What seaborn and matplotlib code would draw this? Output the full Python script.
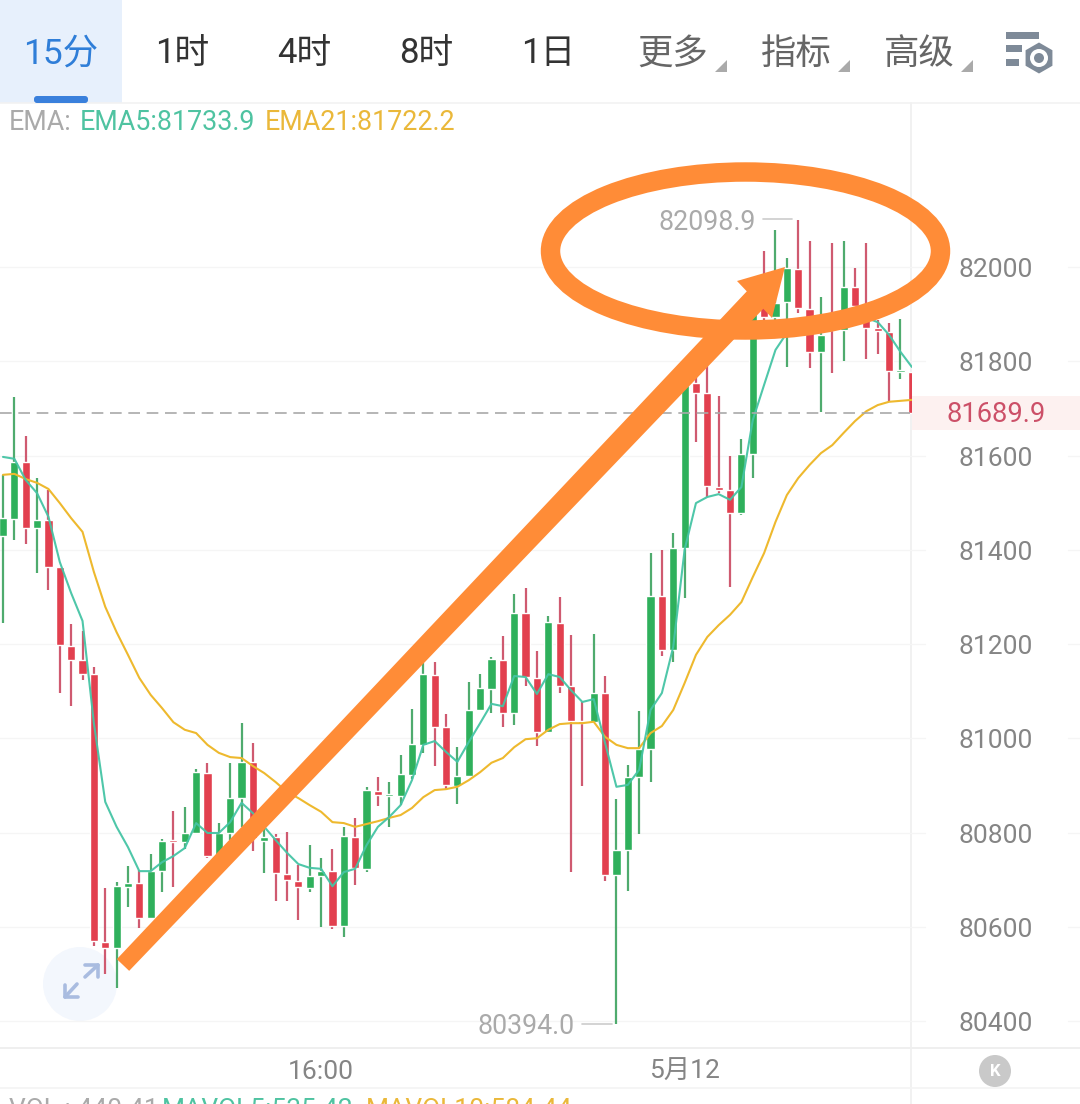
import matplotlib
matplotlib.use("Agg")
import matplotlib.pyplot as plt
from matplotlib.patches import Rectangle, Circle, Ellipse, Polygon, RegularPolygon, FancyBboxPatch
from matplotlib.transforms import ScaledTranslation
import numpy as np
import pandas as pd
import seaborn as sns

open_ = [81429, 81465, 81586, 81446, 81463, 81363, 81196, 81166, 81136, 80568,
         80555, 80684, 80693, 80619, 80718, 80784, 80780, 80799, 80926, 80746,
         80799, 80873, 80950, 80782, 80790, 80712, 80697, 80682, 80708, 80718,
         80602, 80790, 80723, 80888, 80877, 80877, 80922, 80986, 81134, 81024,
         80899, 80920, 81060, 81105, 81166, 81054, 81266, 81128, 81013, 81245,
         81111, 81037, 81035, 81096, 80710, 80763, 80918, 80977, 81302, 81187,
         81404, 81754, 81733, 81533, 81527, 81478, 81603, 81919, 81894, 81926,
         81996, 81911, 81820, 81892, 81866, 81958, 81909, 81871, 81862, 81777,
         81777]
close = [81467, 81586, 81446, 81463, 81363, 81198, 81166, 81136, 80570, 80555,
         80686, 80693, 80619, 80718, 80782, 80780, 80799, 80928, 80750, 80799,
         80873, 80950, 80788, 80790, 80714, 80699, 80684, 80708, 80718, 80602,
         80793, 80725, 80890, 80880, 80882, 80924, 80988, 81136, 81024, 80901,
         80920, 81060, 81107, 81168, 81054, 81266, 81130, 81013, 81247, 81111,
         81037, 81032, 81096, 80710, 80763, 80918, 80977, 81302, 81187, 81404,
         81750, 81733, 81535, 81527, 81478, 81603, 81902, 81894, 81924, 81998,
         81913, 81820, 81856, 81866, 81958, 81917, 81871, 81864, 81779, 81779,
         81689.9]
high = [81559, 81724, 81641, 81552, 81527, 81363, 81242, 81228, 81151, 80682,
        80695, 80729, 80720, 80754, 80786, 80846, 80854, 80935, 80948, 80820,
        80948, 81032, 80990, 80812, 80797, 80801, 80731, 80773, 80746, 80765,
        80812, 80831, 80897, 80918, 80907, 80964, 81062, 81160, 81162, 81051,
        80981, 81119, 81136, 81172, 81217, 81306, 81319, 81185, 81259, 81300,
        81219, 81077, 81221, 81132, 80871, 80943, 81058, 81393, 81400, 81436,
        81771, 81775, 81803, 81726, 81599, 81635, 81919, 82034, 82079, 82019,
        82098.9, 82055, 81936, 82051, 82055, 81998, 82051, 81888, 81881, 81890,
        81777]
low = [81245, 81421, 81412, 81351, 81315, 81096, 81068, 81124, 80559, 80500,
       80470, 80642, 80597, 80619, 80674, 80684, 80765, 80799, 80746, 80742,
       80784, 80812, 80761, 80714, 80655, 80655, 80614, 80674, 80600, 80595,
       80578, 80689, 80716, 80856, 80812, 80858, 80914, 80969, 80941, 80890,
       80860, 80920, 81060, 81054, 81024, 81028, 81111, 80984, 81013, 81096,
       80716, 80899, 81035, 80697, 80394, 80676, 80797, 80907, 81175, 81162,
       81298, 81629, 81512, 81520, 81321, 81474, 81552, 81883, 81883, 81788,
       81902, 81786, 81692, 81775, 81801, 81909, 81805, 81815, 81714, 81762,
       81689.9]
ema5 = [81597, 81593, 81548, 81520, 81470, 81374, 81308, 81249, 81032, 80865,
        80812, 80769, 80718, 80718, 80737, 80750, 80767, 80820, 80799, 80799,
        80822, 80863, 80841, 80812, 80784, 80757, 80733, 80725, 80723, 80686,
        80716, 80723, 80773, 80812, 80833, 80858, 80911, 80986, 80994, 80971,
        80950, 80992, 81032, 81073, 81068, 81132, 81130, 81094, 81136, 81130,
        81102, 81077, 81083, 80990, 80897, 80901, 80933, 81060, 81096, 81194,
        81400, 81499, 81512, 81518, 81506, 81533, 81675, 81750, 81824, 81860,
        81877, 81888, 81877, 81883, 81898, 81898, 81892, 81883, 81856, 81820,
        81788]
ema21 = [81559, 81561, 81550, 81542, 81529, 81499, 81467, 81438, 81353, 81279,
         81225, 81177, 81128, 81092, 81064, 81034, 81018, 81011, 80986, 80969,
         80960, 80958, 80941, 80926, 80907, 80886, 80873, 80858, 80844, 80822,
         80820, 80812, 80818, 80824, 80831, 80837, 80852, 80875, 80890, 80892,
         80897, 80911, 80928, 80948, 80958, 80981, 80998, 81000, 81018, 81030,
         81032, 81032, 81035, 81003, 80986, 80979, 80979, 81011, 81026, 81060,
         81117, 81177, 81215, 81240, 81262, 81289, 81342, 81393, 81459, 81516,
         81552, 81580, 81605, 81622, 81648, 81673, 81694, 81707, 81714, 81716,
         81718]

price_ticks = [80400, 80600, 80800, 81000, 81200, 81400, 81600, 81800, 82000]
time_ticks = [28, 60]
time_labels = ["16:00", "5月12"]
tabs = ["1时", "4时", "8时", "1日"]
menus = ["更多", "指标", "高级"]
last_price = 81689.9

GREEN = "#2fb05c"
GREEN_WICK = "#4fab6e"
RED = "#e2404f"
RED_WICK = "#cf5a70"
TEAL = "#45c4a5"
YELLOW = "#eeb92e"
ORANGE = "#ff8c37"
GRID = "#f5f5f5"
FONT = ["Roboto", "Noto Sans CJK SC", "DejaVu Sans"]
CJK = ["Noto Sans CJK SC", "DejaVu Sans"]

sns.set_theme(style="white")
plt.rcParams["font.family"] = FONT

df = pd.DataFrame({"idx": range(len(close)), "open": open_, "close": close, "high": high,
                   "low": low, "ema5": ema5, "ema21": ema21})

W, H = 1080, 1104
fig = plt.figure(figsize=(W / 100, H / 100), dpi=100, facecolor="white")


def px_axes(z):
    a = fig.add_axes([0, 0, 1, 1], zorder=z)
    a.set_xlim(0, W)
    a.set_ylim(H, 0)
    a.axis("off")
    a.patch.set_alpha(0)
    return a


bg = px_axes(0)
fg = px_axes(2)

# main chart, pixel box 0..911 x 103..1048
top, bottom, right = 103, 1048, 911.5
ax = fig.add_axes([0, 1 - bottom / H, right / W, (bottom - top) / H], zorder=1)
ax.patch.set_alpha(0)
ax.set_xlim(-3 / 11.36, (right - 3) / 11.36)
ax.set_ylim(82000 - (bottom - 267) * 2.122, 82000 + (267 - top) * 2.122)
for s in ax.spines.values():
    s.set_visible(False)

up = df[df["close"] >= df["open"]]
down = df[df["close"] < df["open"]]
ax.vlines(up["idx"], up["low"], up["high"], color=GREEN_WICK, lw=1.6, zorder=2)
ax.vlines(down["idx"], down["low"], down["high"], color=RED_WICK, lw=1.6, zorder=2)
ax.bar(up["idx"], (up["close"] - up["open"]).clip(lower=4), bottom=up["open"], width=0.72,
       color=GREEN, zorder=3)
ax.bar(down["idx"], (down["close"] - down["open"]).clip(upper=-4), bottom=down["open"], width=0.72,
       color=RED, zorder=3)
sns.lineplot(data=df, x="idx", y="ema21", ax=ax, color=YELLOW, lw=1.5, estimator=None, zorder=4)
sns.lineplot(data=df, x="idx", y="ema5", ax=ax, color=TEAL, lw=1.5, estimator=None, zorder=5, alpha=0.95)
ax.axhline(last_price, color="#a9a9a9", lw=1.2, dashes=(7, 4), zorder=6)

ax.set_yticks(price_ticks)
ax.yaxis.tick_right()
ax.set_xticks(time_ticks)
ax.set_xticklabels(time_labels)
ax.tick_params(axis="y", length=0, pad=34, labelsize=19, labelcolor="#858585")
ax.tick_params(axis="x", length=0, pad=8.5, labelsize=19, labelcolor="#858585")
ax.set_xlabel("")
ax.set_ylabel("")
ax.grid(axis="y", color=GRID, lw=1, zorder=0)
ax.grid(axis="x", visible=False)
nudge = ScaledTranslation(0, -0.7 / 100, fig.dpi_scale_trans)
for lab in ax.get_yticklabels():
    lab.set_transform(lab.get_transform() + nudge)
for p in price_ticks:
    y = 267 + (82000 - p) / 2.122
    bg.plot([911, 925], [y, y], color=GRID, lw=1)
    bg.plot([1068, 1080], [y, y], color=GRID, lw=1)

# frame and button behind the candles
bg.plot([911, 911], [103, H], color="#efefef", lw=1.2)
bg.plot([0, W], [103, 103], color="#f2f2f2", lw=1.2)
bg.plot([0, W], [1048, 1048], color="#efefef", lw=1.4)
bg.plot([0, W], [1088, 1088], color="#f4f4f4", lw=1.2)
bg.add_patch(Circle((80, 984), 37, color="#f3f7fd", lw=0))
for xs, ys in [((85, 98, 98), (965, 965, 977)), ((98, 85), (965, 977)),
               ((65, 65, 78), (985, 997, 997)), ((65, 77), (997, 984))]:
    bg.plot(xs, ys, color="#a9bce0", lw=2.6, solid_capstyle="round")

# header
bg.add_patch(Rectangle((0, 0), 122, 103, color="#e7f0fc", lw=0))
bg.add_patch(FancyBboxPatch((34, 96), 54, 7, boxstyle="round,pad=0,rounding_size=3", color="#3a80dc", lw=0, zorder=3))
fg.text(60.5, 54, "15分", color="#2f7ed8", fontsize=25.5, ha="center", va="center")
for i, t in enumerate(tabs):
    fg.text(182 + 122 * i, 54, t, color="#333333", fontsize=25, ha="center", va="center")
for cx, t in zip([673, 796, 919], menus):
    fg.text(cx, 54, t, color="#666666", fontsize=25.5, ha="center", va="center", family=CJK)
    fg.add_patch(Polygon([(cx + 42, 72), (cx + 54, 72), (cx + 54, 60)], color="#aaaaaa", lw=0))
ICON = "#7e8a98"
for x1, y1, y2 in [(1039, 32, 38.5), (1022, 45, 52), (1019, 59, 66)]:
    fg.add_patch(Rectangle((1006, y1), x1 - 1006, y2 - y1, color=ICON, lw=0))
fg.add_patch(RegularPolygon((1039, 58), 6, radius=15.5, color=ICON, lw=0))
fg.add_patch(Circle((1039, 58), 9, color="white", lw=0))
fg.add_patch(Circle((1039, 58), 5, color=ICON, lw=0))

# indicator lines of text
for x, t, c in [(9, "EMA:", "#aaaaaa"), (80, "EMA5:81733.9", "#4fc3a1"), (265, "EMA21:81722.2", "#eab83a")]:
    fg.text(x, 122, t, color=c, fontsize=19.4, ha="left", va="center")
for x, t, c in [(9, "VOL : 440.41", "#aaaaaa"), (162, "MAVOL5:535.42", "#4fc3a1"), (366, "MAVOL10:584.44", "#eab83a")]:
    fg.text(x, 1110, t, color=c, fontsize=19, ha="left", va="center")

# high, low, last price labels
fg.text(756, 222, "82098.9", color="#aaaaaa", fontsize=19.3, ha="right", va="center")
fg.plot([763, 792], [219, 219], color="#cccccc", lw=1.2)
fg.text(575, 1027, "80394.0", color="#aaaaaa", fontsize=19.3, ha="right", va="center")
fg.plot([582, 612], [1024, 1024], color="#cccccc", lw=1.2)
bg.add_patch(Rectangle((912, 396), 168, 34, color="#fdf1f0", lw=0))
fg.text(996, 414, f"{last_price}", color="#cc5068", fontsize=19.6, ha="center", va="center")

# jump-to-end button
fg.add_patch(Circle((995, 1071), 16, color="#c9c9c9", lw=0))
fg.text(995, 1071, "K", color="white", fontsize=12, ha="center", va="center", weight="bold")

# hand drawn marks on top
fg.add_patch(Ellipse((745.5, 251), 390, 158, fill=False, ec=ORANGE, lw=14))
tail = np.array([123.0, 965.0])
neck = np.array([757.0, 298.0])
n = (neck - tail) / np.linalg.norm(neck - tail)
perp = np.array([-n[1], n[0]])
fg.add_patch(Polygon([tail + perp * 8.5, tail - perp * 8.5, neck - perp * 12, neck + perp * 12], color=ORANGE, lw=0))
fg.add_patch(Polygon([(737, 281), (785, 267), (772, 318)], color=ORANGE, lw=0))

fig.savefig("out.png", dpi=100)
